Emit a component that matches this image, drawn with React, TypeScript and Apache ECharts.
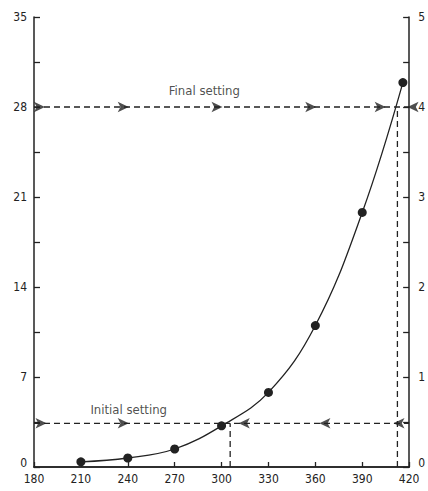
import React, { useEffect, useRef } from "react";
import * as echarts from "echarts";

// Temperature-like x values and measured values on the left axis
const curveX = [210, 240, 270, 300, 330, 360, 390, 416];
const curveY = [0.4, 0.7, 1.4, 3.2, 5.8, 11.0, 19.8, 29.9];

const finalLevel = 28;
const initialLevel = 3.4;
const finalCrossX = 412.5;
const initialCrossX = 305.5;

const finalArrowsRight = [187, 240.6, 300.6, 360.6, 405];
const finalArrowsLeft = [419];
const initialArrowsRight = [188, 240.6];
const initialArrowsLeft = [311, 362.6, 410];

const textLabels = [
  { name: "Final setting", x: 289, y: 29.3 },
  { name: "Initial setting", x: 240.6, y: 4.45 },
];

const ink = "#222";
const font = "'DejaVu Sans Condensed', 'Liberation Sans Narrow', 'Liberation Sans', sans-serif";

const yLabel = (v: number) => (v === 0 ? "{z|0}" : String(v));
const yRich = { z: { color: ink, fontFamily: font, fontSize: 12, padding: [0, 0, 9, 0] } };

export default function App() {
  const ref = useRef<HTMLDivElement>(null);
  useEffect(() => {
    document.body.style.margin = "0";
    const chart = echarts.init(ref.current!, undefined, { renderer: "svg" });
    const dash = { color: ink, width: 1.3, type: [6, 4] as any };
    chart.setOption({
      animation: false,
      backgroundColor: "#fff",
      grid: { left: 34, right: 14, top: 17, bottom: 24 },
      xAxis: [
        {
          type: "value",
          min: 180,
          max: 420,
          interval: 30,
          axisLine: { lineStyle: { color: ink, width: 1.5 } },
          axisTick: { inside: true, length: 5, lineStyle: { color: ink, width: 1.3 } },
          axisLabel: { color: ink, fontFamily: font, fontSize: 12, margin: 6 },
          splitLine: { show: false },
        },
        {
          type: "value",
          position: "top",
          min: 180,
          max: 420,
          axisLine: { show: true, lineStyle: { color: ink, width: 1.5 } },
          axisTick: { show: false },
          axisLabel: { show: false },
          splitLine: { show: false },
        },
      ],
      yAxis: [
        {
          type: "value",
          min: 0,
          max: 35,
          interval: 7,
          axisLine: { show: true, lineStyle: { color: ink, width: 1.5 } },
          axisTick: { inside: true, length: 6, lineStyle: { color: ink, width: 1.3 } },
          minorTick: { show: true, splitNumber: 2, length: 6, lineStyle: { color: ink, width: 1.3 } },
          axisLabel: { color: ink, fontFamily: font, fontSize: 12, margin: 7, formatter: yLabel, rich: yRich },
          splitLine: { show: false },
        },
        {
          type: "value",
          position: "right",
          min: 0,
          max: 5,
          interval: 1,
          axisLine: { show: true, lineStyle: { color: ink, width: 1.5 } },
          axisTick: { inside: true, length: 6, lineStyle: { color: ink, width: 1.3 } },
          minorTick: { show: true, splitNumber: 2, length: 6, lineStyle: { color: ink, width: 1.3 } },
          axisLabel: { color: ink, fontFamily: font, fontSize: 12, margin: 9, formatter: yLabel, rich: yRich },
          splitLine: { show: false },
        },
      ],
      series: [
        {
          type: "line",
          data: [[180, finalLevel], [420, finalLevel]],
          symbol: "none",
          lineStyle: dash,
          silent: true,
        },
        {
          type: "line",
          data: [[180, initialLevel], [420, initialLevel]],
          symbol: "none",
          lineStyle: dash,
          silent: true,
        },
        {
          type: "line",
          data: [[initialCrossX, 0], [initialCrossX, initialLevel]],
          symbol: "none",
          lineStyle: dash,
          silent: true,
        },
        {
          type: "line",
          data: [[finalCrossX, 0], [finalCrossX, finalLevel]],
          symbol: "none",
          lineStyle: dash,
          silent: true,
        },
        {
          type: "line",
          data: curveX.map((x, i) => [x, curveY[i]]),
          smooth: 0.4,
          symbol: "circle",
          symbolSize: 9,
          itemStyle: { color: ink },
          lineStyle: { color: ink, width: 1.3 },
          z: 5,
        },
        {
          type: "scatter",
          data: [
            ...finalArrowsRight.map((x) => [x, finalLevel]),
            ...initialArrowsRight.map((x) => [x, initialLevel]),
          ],
          symbol: "arrow",
          symbolSize: [8, 11],
          symbolRotate: -90,
          itemStyle: { color: ink },
          z: 6,
        },
        {
          type: "scatter",
          data: [
            ...finalArrowsLeft.map((x) => [x, finalLevel]),
            ...initialArrowsLeft.map((x) => [x, initialLevel]),
          ],
          symbol: "arrow",
          symbolSize: [8, 11],
          symbolRotate: 90,
          itemStyle: { color: ink },
          z: 6,
        },
        {
          type: "scatter",
          data: textLabels.map((t) => ({ name: t.name, value: [t.x, t.y] })),
          symbolSize: 0,
          label: {
            show: true,
            position: "inside",
            formatter: (p: any) => p.name,
            color: ink,
            fontFamily: font,
            fontSize: 13,
          },
          z: 7,
        },
      ],
    });
    return () => chart.dispose();
  }, []);
  return <div ref={ref} style={{ width: 428, height: 491 }} />;
}
